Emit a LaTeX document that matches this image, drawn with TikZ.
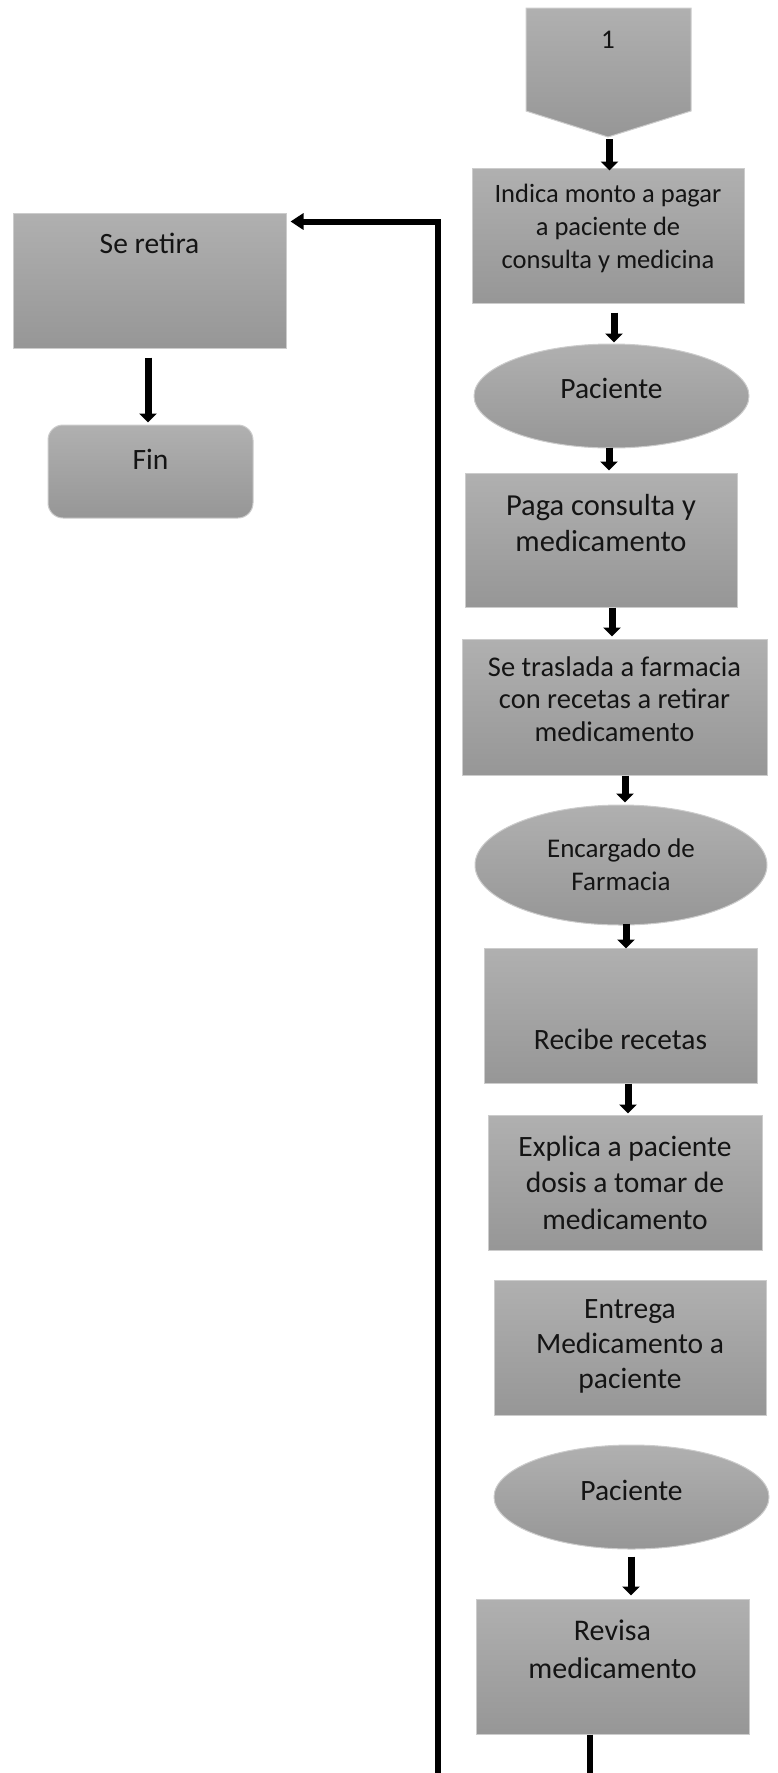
\documentclass[tikz,border=0pt]{standalone}
\usepackage{fontspec}
\setmainfont{Carlito}
\usetikzlibrary{arrows.meta,shapes.geometric}

% font helper: size and line spacing in pt (one pt per pixel of the canvas)
\newcommand{\fsz}[2]{\fontsize{#1}{#2}\selectfont}

\tikzset{
  greyfill/.style={top color=black!31, bottom color=black!41, draw=black!20, line width=1pt},
  procbox/.style={greyfill, rectangle, inner sep=0pt},
  actor/.style={greyfill, ellipse, inner sep=0pt},
  endbox/.style={greyfill, rectangle, rounded corners=15pt, inner sep=0pt},
  txt/.style={align=center, inner sep=0pt, text=black!92},
  arr/.style={line width=7pt, -{Triangle[width=17pt,length=9pt]}},
  backarr/.style={line width=6pt, -{Triangle[width=16pt,length=13pt]}},
  plain/.style={line width=6pt},
}

\begin{document}
\begin{tikzpicture}[x=1pt, y=-1pt]
\useasboundingbox (0,0) rectangle (778,1773);

% off-page connector
\shade[greyfill] (526,8) -- (691,8) -- (691,111) -- (608,137) -- (526,111) -- cycle;
\coordinate (optip) at (608,137);
\node[txt, font=\fsz{27}{32}] (one) at (608,40) {1};

% right column
\node[procbox, minimum width=272pt, minimum height=135pt] (indica) at (608,235.5) {};
\node[txt, font=\fsz{26.5}{33}] (indica-t) at ([yshift=7pt]indica.center) {Indica monto a pagar\\a paciente de\\consulta y medicina};

\node[actor, minimum width=275pt, minimum height=104pt] (pac1) at (611.5,396) {};
\node[txt, font=\fsz{29.5}{35}] (pac1-t) at ([yshift=8pt]pac1.center) {Paciente};

\node[procbox, minimum width=272pt, minimum height=134pt] (paga) at (601,540) {};
\node[txt, font=\fsz{30.5}{36}] (paga-t) at ([yshift=17pt]paga.center) {Paga consulta y\\medicamento};

\node[procbox, minimum width=305pt, minimum height=136pt] (trasl) at (614.5,707) {};
\node[txt, font=\fsz{28.5}{32.5}] (trasl-t) at ([yshift=8pt]trasl.center) {Se traslada a farmacia\\con recetas a retirar\\medicamento};

\node[actor, minimum width=292pt, minimum height=120pt] (enc) at (621,865) {};
\node[txt, font=\fsz{27}{33}] (enc-t) at (enc.center) {Encargado de\\Farmacia};

\node[procbox, minimum width=273pt, minimum height=135pt] (recibe) at (620.5,1015.5) {};
\node[txt, font=\fsz{29.5}{35}] (recibe-t) at ([yshift=-23.5pt]recibe.center) {Recibe recetas};

\node[procbox, minimum width=274pt, minimum height=135pt] (explica) at (625,1182.5) {};
\node[txt, font=\fsz{29.5}{36.5}] (explica-t) at (explica.center) {Explica a paciente\\dosis a tomar de\\medicamento};

\node[procbox, minimum width=272pt, minimum height=135pt] (entrega) at (630,1347.5) {};
\node[txt, font=\fsz{29.5}{35}] (entrega-t) at ([yshift=1pt]entrega.center) {Entrega\\Medicamento a\\paciente};

\node[actor, minimum width=275pt, minimum height=104pt] (pac2) at (631.5,1497) {};
\node[txt, font=\fsz{29.5}{35}] (pac2-t) at ([yshift=7pt]pac2.center) {Paciente};

\node[procbox, minimum width=273pt, minimum height=135pt] (revisa) at (612.5,1666.5) {};
\node[txt, font=\fsz{30}{38}] (revisa-t) at ([yshift=17pt]revisa.center) {Revisa\\medicamento};

% left column
\node[procbox, minimum width=273pt, minimum height=135pt] (retira) at (149.5,280.5) {};
\node[txt, font=\fsz{29.5}{35}] (retira-t) at ([yshift=37pt]retira.center) {Se retira};

\node[endbox, minimum width=205pt, minimum height=93pt] (fin) at (150.5,471.5) {};
\node[txt, font=\fsz{29.5}{35}] (fin-t) at ([yshift=12pt]fin.center) {Fin};

% exits at the lower edge
\coordinate (exitA) at (590,1773);
\coordinate (exitB) at (438,1773);

% connectors
\draw[arr] ([xshift=1.5pt,yshift=-2pt]optip) -- ([xshift=1.5pt,yshift=-3pt]indica.north);
\draw[arr] ([xshift=6pt,yshift=-9pt]indica.south) -- ([xshift=2.5pt,yshift=1pt]pac1.north);
\draw[arr] ([xshift=-2.5pt,yshift=1pt]pac1.south) -- ([xshift=8pt,yshift=2pt]paga.north);
\draw[arr] ([xshift=11pt]paga.south) -- ([xshift=-2.5pt,yshift=2pt]trasl.north);
\draw[arr] ([xshift=10.5pt]trasl.south) -- ([xshift=4pt,yshift=2pt]enc.north);
\draw[arr] ([xshift=5pt,yshift=2pt]enc.south) -- ([xshift=5.5pt,yshift=-1pt]recibe.north);
\draw[arr] ([xshift=7.5pt]recibe.south) -- ([xshift=3pt,yshift=1pt]explica.north);
\draw[arr] ([xshift=-0.5pt,yshift=-7pt]pac2.south) -- ([xshift=18.5pt,yshift=3pt]revisa.north);
\draw[arr] ([xshift=-1.5pt,yshift=-9pt]retira.south) -- ([xshift=-2.5pt,yshift=2pt]fin.north);

\draw[plain] ([xshift=-22.5pt]revisa.south) -- (exitA);
\draw[backarr] (exitB) |- ([xshift=4pt,yshift=-9pt]retira.north east);
\end{tikzpicture}
\end{document}
